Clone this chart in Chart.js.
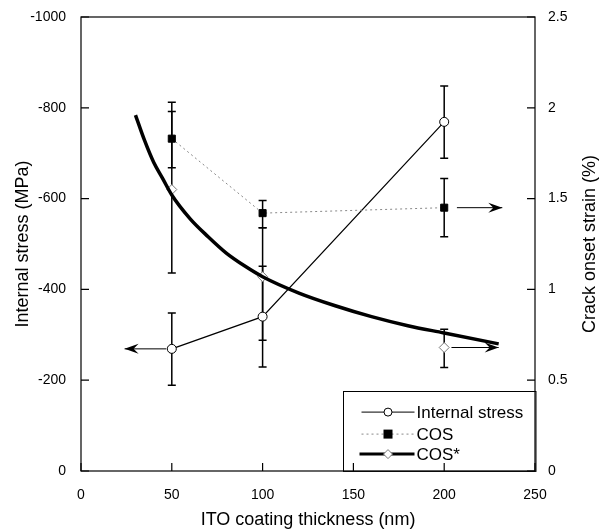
<!DOCTYPE html>
<html>
<head>
<meta charset="utf-8">
<script src="https://cdn.jsdelivr.net/npm/chart.js@4"></script>
<style>
  html, body { margin: 0; padding: 0; background: #fff; }
  #wrap { width: 601px; height: 529px; }
</style>
</head>
<body>
<div id="wrap"><canvas id="stressChart"></canvas></div>
<script>
// data
const thickness = [50, 100, 200];
const internalStress = [-269, -340, -769];
const stressErrLow = [-189, -229, -689];
const stressErrHigh = [-348, -451, -848];
const cosValues = [1.83, 1.42, 1.45];
const cosErrLow = [1.67, 1.34, 1.29];
const cosErrHigh = [2.03, 1.49, 1.61];
const cosStarValues = [1.55, 1.07, 0.68];
const cosStarErrLow = [1.09, 0.72, 0.57];
const cosStarErrHigh = [1.98, 1.34, 0.78];
const fitX = [30, 35, 40, 45, 50, 60, 70, 80, 90, 100, 120, 140, 160, 180, 200, 230];
const fitY = [1.96, 1.82, 1.70, 1.61, 1.52, 1.39, 1.29, 1.20, 1.13, 1.07, 0.98, 0.91, 0.85, 0.80, 0.76, 0.70];
const xTicks = [0, 50, 100, 150, 200, 250];
const stressTicks = [0, -200, -400, -600, -800, -1000];
const strainTicks = [0, 0.5, 1, 1.5, 2, 2.5];
// arrows: [y axis, y value, x from, x to]
const arrows = [
  ["yStress", -269, 47, 24],
  ["yStrain", 1.45, 207, 232],
  ["yStrain", 0.68, 204, 230],
];
const legendLabels = ["Internal stress", "COS", "COS*"];
const strainTitle = "Crack onset strain (%)";

const FONT = "'Liberation Sans', Arial, Helvetica, sans-serif";

function pts(xs, ys) {
  return xs.map((x, i) => ({ x: x, y: ys[i] }));
}

function drawArrowHead(ctx, x, y, dir) {
  ctx.beginPath();
  ctx.moveTo(x, y);
  ctx.lineTo(x - dir * 14, y - 5);
  ctx.lineTo(x - dir * 9, y);
  ctx.lineTo(x - dir * 14, y + 5);
  ctx.closePath();
  ctx.fill();
}

const frame = {
  id: "frame",
  beforeDatasetsDraw(chart) {
    const ctx = chart.ctx;
    const xs = chart.scales.x;
    // error bars
    const sets = [
      ["yStress", stressErrLow, stressErrHigh],
      ["yStrain", cosErrLow, cosErrHigh],
      ["yStrain", cosStarErrLow, cosStarErrHigh],
    ];
    ctx.save();
    ctx.strokeStyle = "#000";
    ctx.lineWidth = 1.5;
    sets.forEach(([axis, lo, hi]) => {
      const ys = chart.scales[axis];
      thickness.forEach((t, i) => {
        const px = xs.getPixelForValue(t);
        const p1 = ys.getPixelForValue(lo[i]);
        const p2 = ys.getPixelForValue(hi[i]);
        ctx.beginPath();
        ctx.moveTo(px, p1);
        ctx.lineTo(px, p2);
        ctx.moveTo(px - 4, p1);
        ctx.lineTo(px + 4, p1);
        ctx.moveTo(px - 4, p2);
        ctx.lineTo(px + 4, p2);
        ctx.stroke();
      });
    });
    ctx.restore();
  },
  afterDatasetsDraw(chart) {
    const ctx = chart.ctx;
    const a = chart.chartArea;
    const xs = chart.scales.x;
    const yl = chart.scales.yStress;
    const yr = chart.scales.yStrain;
    ctx.save();
    ctx.strokeStyle = "#000";
    ctx.fillStyle = "#000";
    ctx.lineWidth = 1;

    // arrows
    arrows.forEach(([axis, yv, x0, x1]) => {
      const py = chart.scales[axis].getPixelForValue(yv);
      const p0 = xs.getPixelForValue(x0);
      const p1 = xs.getPixelForValue(x1);
      ctx.beginPath();
      ctx.moveTo(p0, py);
      ctx.lineTo(p1, py);
      ctx.stroke();
      drawArrowHead(ctx, p1, py, p1 > p0 ? 1 : -1);
    });

    // legend box
    const lx = xs.getPixelForValue(144);
    const ly = yr.getPixelForValue(0.44);
    ctx.fillStyle = "#fff";
    ctx.fillRect(lx, ly, a.right - lx, a.bottom - ly);
    ctx.strokeStyle = "#000";
    ctx.lineWidth = 1;
    ctx.strokeRect(Math.round(lx) + 0.5, Math.round(ly) + 0.5, a.right - lx, a.bottom - ly);
    const rows = [ly + 21, ly + 43, ly + 63];
    const s0 = lx + 19, s1 = lx + 72, sm = (s0 + s1) / 2;
    ctx.font = "17px " + FONT;
    ctx.textBaseline = "middle";
    ctx.textAlign = "left";
    // internal stress
    ctx.strokeStyle = "#000";
    ctx.beginPath(); ctx.moveTo(s0, rows[0]); ctx.lineTo(s1, rows[0]); ctx.stroke();
    ctx.fillStyle = "#fff";
    ctx.beginPath(); ctx.arc(sm, rows[0], 4, 0, Math.PI * 2); ctx.fill(); ctx.stroke();
    // COS
    ctx.strokeStyle = "#888";
    ctx.setLineDash([2, 3]);
    ctx.beginPath(); ctx.moveTo(s0, rows[1]); ctx.lineTo(s1, rows[1]); ctx.stroke();
    ctx.setLineDash([]);
    ctx.fillStyle = "#000";
    ctx.fillRect(sm - 4.5, rows[1] - 4.5, 9, 9);
    // COS*
    ctx.strokeStyle = "#000";
    ctx.lineWidth = 3;
    ctx.beginPath(); ctx.moveTo(s0 - 2, rows[2]); ctx.lineTo(s1, rows[2]); ctx.stroke();
    ctx.lineWidth = 1;
    ctx.fillStyle = "#fff";
    ctx.strokeStyle = "#777";
    ctx.beginPath();
    ctx.moveTo(sm, rows[2] - 4.5); ctx.lineTo(sm + 4.5, rows[2]);
    ctx.lineTo(sm, rows[2] + 4.5); ctx.lineTo(sm - 4.5, rows[2]);
    ctx.closePath(); ctx.fill(); ctx.stroke();
    ctx.fillStyle = "#000";
    legendLabels.forEach((t, i) => ctx.fillText(t, s1 + 2, rows[i] + 1));

    // frame and inward ticks
    ctx.strokeStyle = "#000";
    ctx.lineWidth = 1.2;
    ctx.strokeRect(a.left, a.top, a.right - a.left, a.bottom - a.top);
    ctx.beginPath();
    xTicks.forEach((v) => {
      const px = xs.getPixelForValue(v);
      ctx.moveTo(px, a.bottom);
      ctx.lineTo(px, a.bottom - 8);
    });
    stressTicks.forEach((v) => {
      const py = yl.getPixelForValue(v);
      ctx.moveTo(a.left, py);
      ctx.lineTo(a.left + 8, py);
    });
    strainTicks.forEach((v) => {
      const py = yr.getPixelForValue(v);
      ctx.moveTo(a.right, py);
      ctx.lineTo(a.right - 8, py);
    });
    ctx.stroke();

    // right axis title, reading bottom to top
    ctx.translate(yr.right - 11, (a.top + a.bottom) / 2);
    ctx.rotate(-Math.PI / 2);
    ctx.fillStyle = "#000";
    ctx.font = "18px " + FONT;
    ctx.textAlign = "center";
    ctx.textBaseline = "middle";
    ctx.fillText(strainTitle, 0, 0);
    ctx.restore();
  },
};

const ctx = document.getElementById("stressChart").getContext("2d");
const stressChart = new Chart(ctx, {
  type: "line",
  data: {
    datasets: [
      {
        label: "COS* fit",
        data: pts(fitX, fitY),
        yAxisID: "yStrain",
        borderColor: "#000",
        borderWidth: 3.5,
        pointRadius: 0,
        cubicInterpolationMode: "monotone",
        fill: false,
      },
      {
        label: "COS",
        data: pts(thickness, cosValues),
        yAxisID: "yStrain",
        borderColor: "#888",
        borderWidth: 1,
        borderDash: [2, 3],
        pointStyle: "rect",
        pointRadius: 5,
        pointBackgroundColor: "#000",
        pointBorderColor: "#000",
        pointBorderWidth: 1,
        tension: 0,
      },
      {
        label: "COS*",
        data: pts(thickness, cosStarValues),
        yAxisID: "yStrain",
        showLine: false,
        pointStyle: "rectRot",
        pointRadius: 5,
        pointBackgroundColor: "#fff",
        pointBorderColor: "#777",
        pointBorderWidth: 1,
      },
      {
        label: "Internal stress",
        data: pts(thickness, internalStress),
        yAxisID: "yStress",
        borderColor: "#000",
        borderWidth: 1.2,
        pointStyle: "circle",
        pointRadius: 4.5,
        pointBackgroundColor: "#fff",
        pointBorderColor: "#000",
        pointBorderWidth: 1,
        tension: 0,
      },
    ],
  },
  options: {
    responsive: true,
    maintainAspectRatio: false,
    animation: false,
    layout: { padding: { top: 17, left: 0, right: 0, bottom: 0 } },
    plugins: {
      legend: { display: false },
      tooltip: { enabled: false },
    },
    scales: {
      x: {
        type: "linear",
        min: 0,
        max: 250,
        afterBuildTicks: (s) => { s.ticks = xTicks.map((v) => ({ value: v })); },
        afterFit: (s) => { s.height = 58; },
        grid: { display: false },
        border: { display: false },
        ticks: {
          padding: 8,
          color: "#000",
          font: { family: FONT, size: 14 },
          callback: (v) => String(v),
        },
        title: {
          display: true,
          text: "ITO coating thickness (nm)",
          color: "#000",
          font: { family: FONT, size: 18 },
          padding: { top: 0, bottom: -2 },
        },
      },
      yStress: {
        position: "left",
        min: -1000,
        max: 0,
        reverse: true,
        afterBuildTicks: (s) => { s.ticks = stressTicks.map((v) => ({ value: v })); },
        afterFit: (s) => { s.width = 81; },
        grid: { display: false },
        border: { display: false },
        ticks: {
          padding: 7,
          color: "#000",
          font: { family: FONT, size: 14 },
          callback: (v) => String(v),
        },
        title: {
          display: true,
          text: "Internal stress (MPa)",
          color: "#000",
          font: { family: FONT, size: 18 },
          padding: { top: 12, bottom: 0 },
        },
      },
      yStrain: {
        position: "right",
        min: 0,
        max: 2.5,
        afterBuildTicks: (s) => { s.ticks = strainTicks.map((v) => ({ value: v })); },
        afterFit: (s) => { s.width = 66; },
        grid: { display: false },
        border: { display: false },
        ticks: {
          padding: 5,
          color: "#000",
          font: { family: FONT, size: 14 },
          callback: (v) => String(v),
        },
      },
    },
  },
  plugins: [frame],
});
</script>
</body>
</html>
